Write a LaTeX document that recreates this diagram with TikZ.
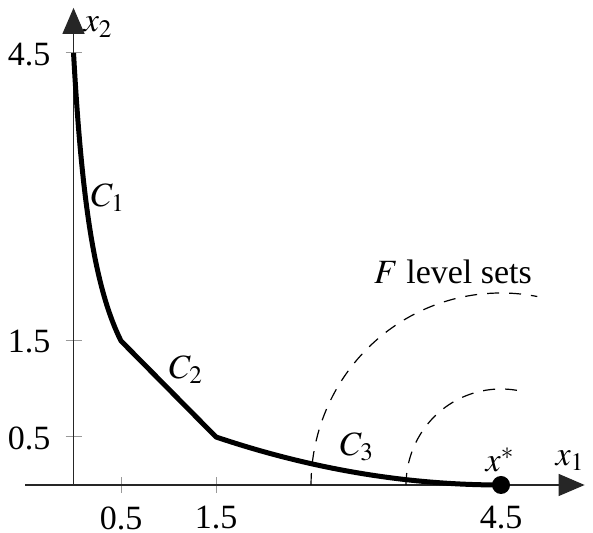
\documentclass[tikz,border=0pt]{standalone}
\usepackage{mathptmx}
\usepackage{fontspec}
\setmainfont{Liberation Serif}
\usetikzlibrary{arrows.meta}
\begin{document}
\begin{tikzpicture}[x=47.5pt,y=48pt,
  axis/.style={line width=0.6pt,draw=black!85,-{Triangle[length=13pt,width=11pt]}},
  tickmark/.style={line width=0.5pt,draw=black!40},
  curve/.style={line width=2.5pt,line join=round},
  level/.style={line width=0.6pt,dash pattern=on 6pt off 5pt},
  lbl/.style={inner sep=0pt,font=\fontsize{17}{20}\selectfont}]
\useasboundingbox (-0.774,-0.49) rectangle (5.468,5.052);
\coordinate (O) at (0,0);
\coordinate (xs) at (-0.51,0);
\coordinate (xe) at (5.38,0);
\coordinate (ye) at (0,4.97);
% ticks
\foreach \t in {0.5,1.5,4.5}{
  \draw[tickmark] (\t,-0.083) -- (\t,0.083);
  \draw[tickmark] (-0.084,\t) -- (0.084,\t);
}
\draw[axis] (xs) -- (xe);
\draw[axis] (O) -- (ye);
% level sets
\draw[level] plot[domain=180:79,samples=60,smooth] ({4.5+2*cos(\x)},{2*sin(\x)});
\draw[level] plot[domain=180:79,samples=60,smooth] ({4.5+cos(\x)},{sin(\x)});
% curve
\coordinate (A) at (0,4.5);
\coordinate (B) at (0.5,1.5);
\coordinate (Cc) at (1.5,0.5);
\coordinate (D) at (4.5,0);
\draw[curve] plot[domain=0:0.5,samples=50,smooth] (\x,{1.125/(\x+0.25)}) -- (Cc) .. controls (2.5,0.16667) and (3.5,0) .. (D);
\fill (D) circle[radius=4.5pt];
% labels
\node[lbl] (lx2) at (0.26,4.77) {$x_2$};
\node[lbl] (lx1) at (5.226,0.25) {$x_1$};
\node[lbl] (lxs) at (4.489,0.26) {$x^{*}$};
\node[lbl] (lc1) at (0.363,2.99) {$C_1$};
\node[lbl] (lc2) at (1.184,1.198) {$C_2$};
\node[lbl] (lc3) at (2.984,0.396) {$C_3$};
\node[lbl] (lF) at (3.995,2.219) {$F$ level sets};
\node[lbl,anchor=east] (ly45) at (-0.24,4.48) {4.5};
\node[lbl,anchor=east] (ly15) at (-0.24,1.49) {1.5};
\node[lbl,anchor=east] (ly05) at (-0.24,0.49) {0.5};
\node[lbl] (lx05) at (0.5,-0.344) {0.5};
\node[lbl] (lx15) at (1.5,-0.344) {1.5};
\node[lbl] (lx45) at (4.5,-0.344) {4.5};
\end{tikzpicture}
\end{document}
